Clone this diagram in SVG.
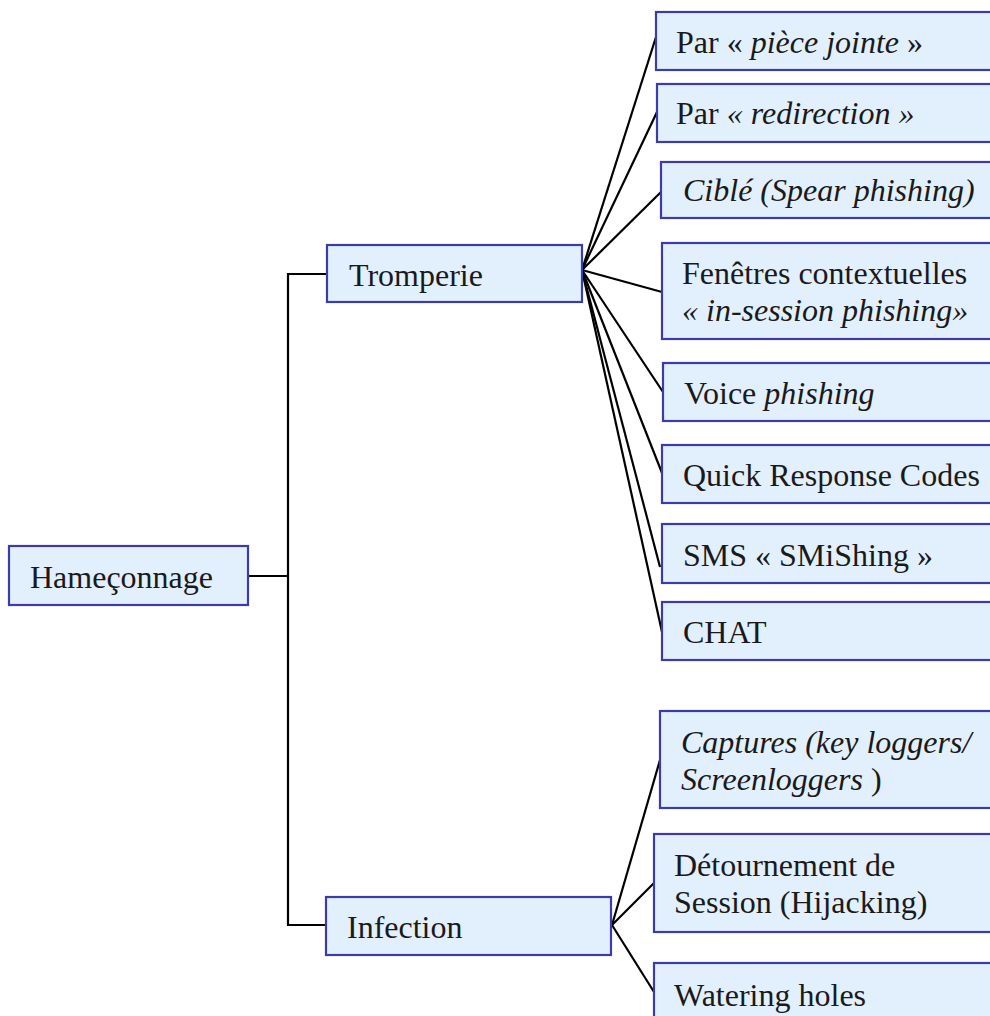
<svg xmlns="http://www.w3.org/2000/svg" width="990" height="1016" viewBox="0 0 990 1016">
<style>
.box{fill:#e2effd;stroke:#3c3ca6;stroke-width:2.2}
text{font-family:"Liberation Serif","Times New Roman",serif;font-size:32px;fill:#1a1a1a}
.i{font-style:italic}
.ln{stroke:#000;stroke-width:2.2;fill:none}
</style>
<rect width="990" height="1016" fill="#ffffff"/>
<g id="connectors">
<path class="ln" d="M248 576 H288" stroke-width="3.4"/>
<path class="ln" d="M327 274 H288 V925 H326" stroke-width="2.8"/>
<path class="ln" d="M582 270 L656 37"/>
<path class="ln" d="M582 270 L657 112"/>
<path class="ln" d="M582 270 L661 192"/>
<path class="ln" d="M582 270 L662 292"/>
<path class="ln" d="M582 270 L663 392"/>
<path class="ln" d="M582 270 L662 473"/>
<path class="ln" d="M582 270 L660 567"/>
<path class="ln" d="M582 270 L662 632"/>
<path class="ln" d="M612 925 L660 760"/>
<path class="ln" d="M612 925 L654 883"/>
<path class="ln" d="M612 925 L654 992"/>
</g>
<g id="hameconnage"><rect class="box" x="9" y="546" width="239" height="59"/><text x="30" y="588">Hameçonnage</text></g>
<g id="tromperie"><rect class="box" x="327" y="245" width="255" height="57"/><text x="349" y="286">Tromperie</text></g>
<g id="infection"><rect class="box" x="326" y="897" width="285" height="58"/><text x="347" y="938">Infection</text></g>
<g id="piece-jointe"><rect class="box" x="656" y="12" width="350" height="58"/><text x="676" y="53">Par « <tspan class="i">pièce jointe</tspan> »</text></g>
<g id="redirection"><rect class="box" x="657" y="84" width="350" height="58"/><text x="676" y="124">Par <tspan class="i">« redirection »</tspan></text></g>
<g id="cible"><rect class="box" x="661" y="162" width="350" height="56"/><text class="i" x="683" y="201">Ciblé (Spear phishing)</text></g>
<g id="fenetres"><rect class="box" x="662" y="243" width="350" height="96"/><text x="682" y="284">Fenêtres contextuelles</text><text class="i" x="682" y="321">« in-session phishing»</text></g>
<g id="voice"><rect class="box" x="663" y="363" width="350" height="58"/><text x="684" y="404">Voice <tspan class="i">phishing</tspan></text></g>
<g id="qr"><rect class="box" x="662" y="445" width="350" height="58"/><text x="683" y="486">Quick Response Codes</text></g>
<g id="sms"><rect class="box" x="662" y="524" width="350" height="59"/><text x="683" y="566">SMS « SMiShing »</text></g>
<g id="chat"><rect class="box" x="662" y="602" width="350" height="58"/><text x="683" y="643">CHAT</text></g>
<g id="captures"><rect class="box" x="660" y="711" width="350" height="97"/><text class="i" x="681" y="753">Captures (key loggers/</text><text x="681" y="790"><tspan class="i">Screenloggers</tspan> )</text></g>
<g id="detournement"><rect class="box" x="654" y="834" width="350" height="98"/><text x="674" y="876">Détournement de</text><text x="674" y="913">Session (Hijacking)</text></g>
<g id="watering"><rect class="box" x="654" y="963" width="350" height="70"/><text x="674" y="1006">Watering holes</text></g>
</svg>
